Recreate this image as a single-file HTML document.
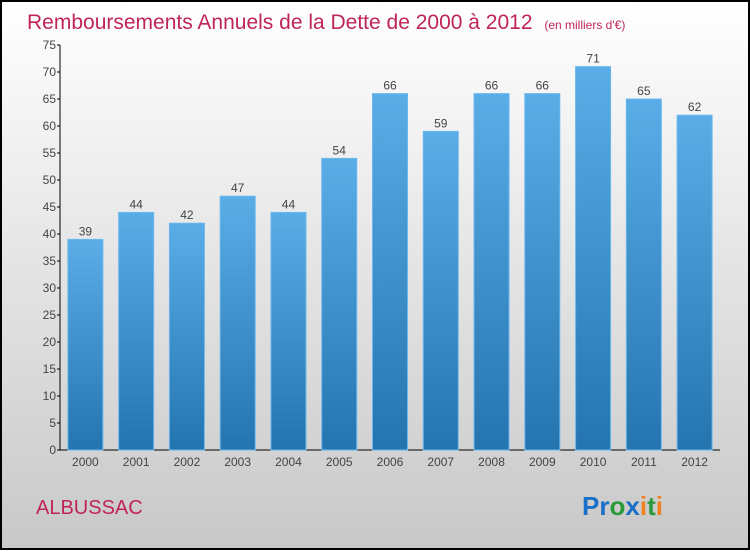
<!DOCTYPE html>
<html><head><meta charset="utf-8"><style>
body{margin:0;width:750px;height:550px;overflow:hidden;font-family:"Liberation Sans",sans-serif}
</style></head><body>
<svg id="chart" width="750" height="550" xmlns="http://www.w3.org/2000/svg">
<defs>
<linearGradient id="bg" x1="0" y1="0" x2="0" y2="1"><stop offset="0" stop-color="#ffffff"/><stop offset="1" stop-color="#c8c8c8"/></linearGradient>
<linearGradient id="bar" x1="0" y1="0" x2="0" y2="1"><stop offset="0" stop-color="#5aade6"/><stop offset="1" stop-color="#2474b0"/></linearGradient>
</defs>
<rect x="1" y="1" width="748" height="548" fill="url(#bg)" stroke="#000" stroke-width="2"/>
<text x="27" y="29" font-size="21" fill="#c0245c">Remboursements Annuels de la Dette de 2000 à 2012 <tspan font-size="12" dx="6">(en milliers d'€)</tspan></text>
<g id="axes"></g>
<g id="bars"></g>
<text x="36" y="514" font-size="20" fill="#c0245c">ALBUSSAC</text>
<text x="582" y="515" font-size="26" font-weight="bold"><tspan fill="#1a6fc8">Pr</tspan><tspan fill="#2a9a3a">o</tspan><tspan fill="#1a6fc8">x</tspan><tspan fill="#f08020">i</tspan><tspan fill="#2a9a3a">t</tspan><tspan fill="#f08020">i</tspan></text>
</svg>
<script>
const categories=["2000","2001","2002","2003","2004","2005","2006","2007","2008","2009","2010","2011","2012"];
const values=[39,44,42,47,44,54,66,59,66,66,71,65,62];
const yTicks=[0,5,10,15,20,25,30,35,40,45,50,55,60,65,70,75];
const NS="http://www.w3.org/2000/svg";
const x0=60,x1=720,y0=450,y1=45,yMax=75;
const y=v=>y0-(v/yMax)*(y0-y1);
const band=(x1-x0)/categories.length;
const xc=i=>x0+band*(i+0.5);
function mk(tag,attrs,parent,text){const e=document.createElementNS(NS,tag);for(const k in attrs)e.setAttribute(k,attrs[k]);if(text!==undefined)e.textContent=text;parent.appendChild(e);return e;}
const ax=document.getElementById('axes'),bg=document.getElementById('bars');
let l=mk('line',{x1:x0,y1:y1,x2:x0,y2:y0,stroke:'#000'},ax);


l=mk('line',{x1:x0,y1:y0,x2:x1,y2:y0,stroke:'#000'},ax);


yTicks.forEach(t=>{
 mk('line',{x1:x0-3,x2:x0,y1:y(t),y2:y(t),stroke:'#000'},ax);
 const tx=mk('text',{x:x0-4,y:y(t)+4,'font-size':12,fill:'#444','text-anchor':'end'},ax,t);
 
 
});
categories.forEach((c,i)=>{
 const w=35;
 const r=mk('rect',{x:xc(i)-w/2,y:y(values[i]),width:w,height:y0-y(values[i]),fill:'url(#bar)',stroke:'#6ab8ee','stroke-width':1},bg);
 
 
 const v=mk('text',{x:xc(i),y:y(values[i])-4,'font-size':12,fill:'#444','text-anchor':'middle'},bg,values[i]);
 
 
 const t=mk('text',{x:xc(i),y:466,'font-size':12,fill:'#444','text-anchor':'middle'},ax,c);
 
 
});
</script>
</body></html>
